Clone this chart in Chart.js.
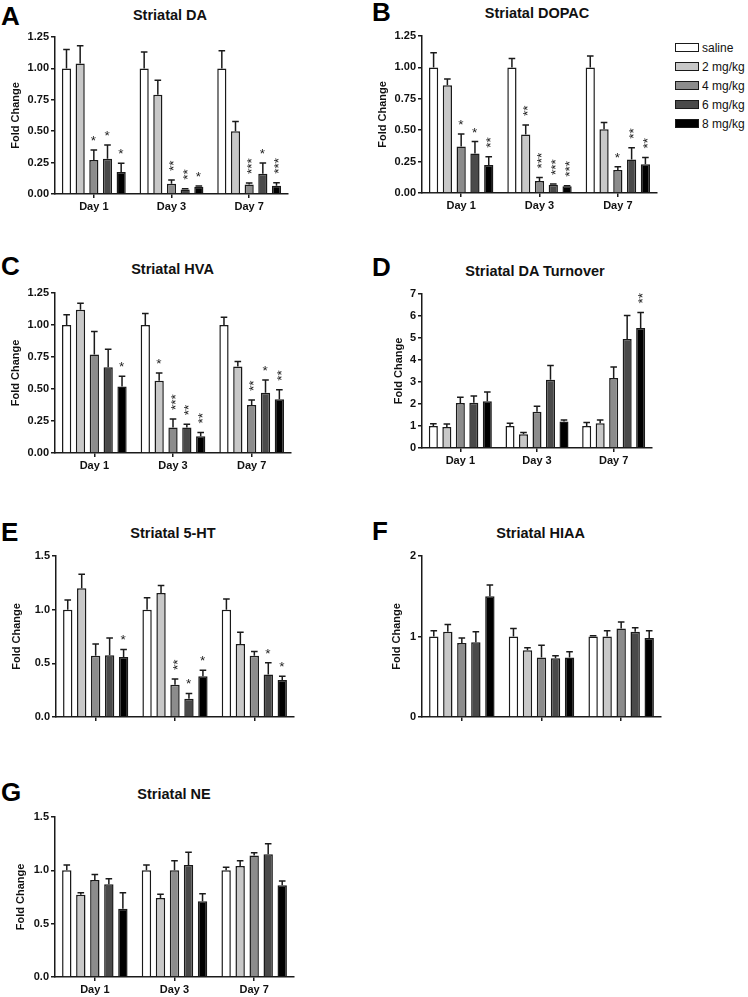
<!DOCTYPE html>
<html><head><meta charset="utf-8">
<script src="https://cdn.jsdelivr.net/npm/chart.js@4.4.1/dist/chart.umd.min.js"></script>
<style>
html,body{margin:0;padding:0;background:#fff;}
body{width:748px;height:997px;position:relative;overflow:hidden;font-family:"Liberation Sans",Arial,sans-serif;}
canvas{position:absolute;}
.lbl{position:absolute;font-weight:bold;font-size:26px;line-height:26px;color:#000;}
.ttl{position:absolute;font-weight:bold;font-size:14.5px;line-height:16px;transform:translate(-50%,-50%);white-space:nowrap;color:#111;}
.leg{position:absolute;left:675px;top:38px;font-size:12px;color:#111;}
.legrow{height:19px;display:flex;align-items:center;}
.legbox{width:23.5px;height:8.5px;border:1.5px solid #1a1a1a;box-sizing:border-box;margin-right:3.5px;}
</style>
</head><body>
<script>
// ---------- data ----------
const categories = ['Day 1', 'Day 3', 'Day 7'];
const seriesNames = ['saline', '2 mg/kg', '4 mg/kg', '6 mg/kg', '8 mg/kg'];

// A: Striatal DA  (rows = series, cols = days)
const daMean = [[1.00, 1.00, 1.00], [1.04, 0.79, 0.50], [0.27, 0.082, 0.075], [0.28, 0.035, 0.162], [0.175, 0.058, 0.066]];
const daErr  = [[0.15, 0.13, 0.14], [0.14, 0.115, 0.077], [0.08, 0.03, 0.013], [0.11, 0.007, 0.085], [0.07, 0.006, 0.024]];
const daStars = [['', '', ''], ['', '', ''], ['*', '**', '***'], ['*', '**', '*'], ['*', '*', '***']];

// B: Striatal DOPAC
const dopacMean = [[1.00, 1.00, 1.00], [0.857, 0.466, 0.508], [0.37, 0.095, 0.183], [0.315, 0.066, 0.267], [0.222, 0.053, 0.228]];
const dopacErr  = [[0.116, 0.071, 0.09], [0.05, 0.076, 0.053], [0.10, 0.029, 0.026], [0.095, 0.005, 0.093], [0.066, 0.005, 0.055]];
const dopacStars = [['', '', ''], ['', '**', ''], ['*', '***', '*'], ['*', '***', '**'], ['**', '***', '**']];

// C: Striatal HVA
const hvaMean = [[1.00, 1.00, 1.00], [1.12, 0.565, 0.675], [0.77, 0.20, 0.375], [0.67, 0.20, 0.47], [0.52, 0.13, 0.42]];
const hvaErr  = [[0.08, 0.09, 0.06], [0.05, 0.06, 0.04], [0.18, 0.065, 0.04], [0.14, 0.025, 0.10], [0.08, 0.03, 0.075]];
const hvaStars = [['', '', ''], ['', '*', ''], ['', '***', '**'], ['', '**', '*'], ['*', '**', '**']];

// D: Striatal DA Turnover
const turnMean = [[1.00, 1.00, 1.00], [0.95, 0.62, 1.13], [2.04, 1.65, 3.18], [2.06, 3.10, 4.95], [2.13, 1.20, 5.46]];
const turnErr  = [[0.10, 0.12, 0.16], [0.14, 0.08, 0.14], [0.27, 0.25, 0.50], [0.30, 0.65, 1.07], [0.42, 0.07, 0.70]];
const turnStars = [['', '', ''], ['', '', ''], ['', '', ''], ['', '', ''], ['', '', '**']];

// E: Striatal 5-HT
const htMean = [[1.00, 1.00, 1.00], [1.20, 1.155, 0.68], [0.57, 0.30, 0.57], [0.575, 0.17, 0.395], [0.56, 0.38, 0.345]];
const htErr  = [[0.09, 0.11, 0.10], [0.13, 0.07, 0.11], [0.11, 0.055, 0.04], [0.16, 0.05, 0.11], [0.07, 0.055, 0.035]];
const htStars = [['', '', ''], ['', '', ''], ['', '**', ''], ['', '*', '*'], ['*', '*', '*']];

// F: Striatal HIAA
const hiaaMean = [[1.00, 1.00, 1.00], [1.06, 0.83, 1.00], [0.92, 0.74, 1.10], [0.93, 0.73, 1.06], [1.50, 0.74, 0.98]];
const hiaaErr  = [[0.07, 0.10, 0.01], [0.09, 0.03, 0.07], [0.06, 0.15, 0.08], [0.13, 0.03, 0.05], [0.14, 0.07, 0.09]];
const hiaaStars = [['', '', ''], ['', '', ''], ['', '', ''], ['', '', ''], ['', '', '']];

// G: Striatal NE
const neMean = [[1.00, 1.00, 1.00], [0.77, 0.74, 1.04], [0.91, 1.00, 1.14], [0.87, 1.05, 1.15], [0.64, 0.71, 0.86]];
const neErr  = [[0.05, 0.05, 0.03], [0.02, 0.035, 0.05], [0.05, 0.09, 0.025], [0.05, 0.12, 0.10], [0.15, 0.07, 0.04]];
const neStars = [['', '', ''], ['', '', ''], ['', '', ''], ['', '', ''], ['', '', '']];

// y-axis ranges / ticks
const yMaxes = {A: 1.25, B: 1.25, C: 1.25, D: 7, E: 1.5, F: 2, G: 1.5};
const ySteps = {A: 0.25, B: 0.25, C: 0.25, D: 1, E: 0.5, F: 1, G: 0.5};
const yDecimals = {A: 2, B: 2, C: 2, D: 0, E: 1, F: 0, G: 1};

// ---------- style / layout ----------
const FONT = '"Liberation Sans", Arial, sans-serif';
const fills = ['#ffffff', '#c8c8c8', '#8c8c8c', '#4a4a4a', '#000000'];
const INK = '#1a1a1a';

const panels = [
  {id: 'A', title: 'Striatal DA', mean: daMean, err: daErr, stars: daStars, area: {l: 55, t: 37, r: 288, b: 194}, showX: true, yTitleX: 15.5, letter: [1, 3.3], tpos: [170, 14.7]},
  {id: 'B', title: 'Striatal DOPAC', mean: dopacMean, err: dopacErr, stars: dopacStars, area: {l: 422, t: 36, r: 657, b: 193}, showX: true, yTitleX: 383, letter: [372, -1.2], tpos: [537, 12.5]},
  {id: 'C', title: 'Striatal HVA', mean: hvaMean, err: hvaErr, stars: hvaStars, area: {l: 55, t: 293, r: 291, b: 453}, showX: true, yTitleX: 15.5, letter: [1, 253.3], tpos: [172.5, 269]},
  {id: 'D', title: 'Striatal DA Turnover', mean: turnMean, err: turnErr, stars: turnStars, area: {l: 422, t: 294, r: 652, b: 448}, showX: true, yTitleX: 399, letter: [372, 254.3], tpos: [535, 271]},
  {id: 'E', title: 'Striatal 5-HT', mean: htMean, err: htErr, stars: htStars, area: {l: 56, t: 556, r: 294, b: 717}, showX: false, yTitleX: 17, letter: [1, 519.3], tpos: [173, 532.5]},
  {id: 'F', title: 'Striatal HIAA', mean: hiaaMean, err: hiaaErr, stars: hiaaStars, area: {l: 422, t: 556, r: 661, b: 717}, showX: false, yTitleX: 397, letter: [372, 518.3], tpos: [540.7, 532.5]},
  {id: 'G', title: 'Striatal NE', mean: neMean, err: neErr, stars: neStars, area: {l: 55, t: 817, r: 294, b: 977}, showX: true, yTitleX: 21, letter: [1, 779.3], tpos: [174, 794]}
];

// ---------- error bars & significance stars ----------
const errStarPlugin = {
  id: 'errStar',
  afterDatasetsDraw(chart, args, opts) {
    const ctx = chart.ctx;
    const y = chart.scales.y;
    chart.data.datasets.forEach((ds, i) => {
      const meta = chart.getDatasetMeta(i);
      meta.data.forEach((bar, j) => {
        const v = ds.data[j], e = opts.err[i][j];
        const yv = y.getPixelForValue(v), ye = y.getPixelForValue(v + e);
        ctx.save();
        ctx.strokeStyle = INK; ctx.lineWidth = 1.5;
        ctx.beginPath();
        ctx.moveTo(bar.x, yv); ctx.lineTo(bar.x, ye);
        ctx.moveTo(bar.x - 3.3, ye); ctx.lineTo(bar.x + 3.3, ye);
        ctx.stroke();
        const s = opts.stars[i][j];
        if (s) {
          ctx.font = '13.5px ' + FONT;
          ctx.fillStyle = '#222';
          ctx.textAlign = 'left'; ctx.textBaseline = 'alphabetic';
          const m = ctx.measureText(s);
          const gw = m.actualBoundingBoxLeft + m.actualBoundingBoxRight;
          const gap = 9;
          if (s.length === 1) {
            ctx.fillText(s, bar.x - gw / 2 + m.actualBoundingBoxLeft, ye - gap - m.actualBoundingBoxDescent);
          } else {
            ctx.translate(bar.x, ye - gap - gw / 2);
            ctx.rotate(-Math.PI / 2);
            ctx.fillText(s, -gw / 2 + m.actualBoundingBoxLeft, (m.actualBoundingBoxAscent - m.actualBoundingBoxDescent) / 2);
          }
        }
        ctx.restore();
      });
    });
  }
};

const YW = 55, PT = 15, PR = 15, PB = 2, XH = 20;

function addDiv(cls, text, left, top) {
  const d = document.createElement('div');
  d.className = cls; d.textContent = text;
  d.style.left = left + 'px'; d.style.top = top + 'px';
  document.body.appendChild(d);
}

panels.forEach(p => {
  addDiv('lbl', p.id, p.letter[0], p.letter[1]);
  addDiv('ttl', p.title, p.tpos[0], p.tpos[1]);
  const L = p.area.l - YW, T = p.area.t - PT;
  const W = p.area.r - p.area.l + YW + PR, H = p.area.b - p.area.t + PT + PB + XH;
  const c = document.createElement('canvas');
  c.width = W; c.height = H;
  c.style.left = L + 'px'; c.style.top = T + 'px';
  c.style.width = W + 'px'; c.style.height = H + 'px';
  document.body.appendChild(c);
  const gridOpts = {display: true, drawOnChartArea: false, drawTicks: true, tickLength: 4, offset: false, color: INK, lineWidth: 1.5};
  const borderOpts = {display: true, color: INK, width: 1.5};
  const tickFont = {family: FONT, size: 11, weight: 'bold'};
  new Chart(c, {
    type: 'bar',
    data: {
      labels: categories,
      datasets: seriesNames.map((n, i) => ({
        label: n, data: p.mean[i], backgroundColor: fills[i], borderColor: INK,
        borderWidth: 1.5, categoryPercentage: 0.88, barPercentage: 0.67
      }))
    },
    options: {
      responsive: false, animation: false, devicePixelRatio: 1,
      layout: {padding: {left: 0, top: PT, right: PR, bottom: PB}},
      plugins: {legend: {display: false}, tooltip: {enabled: false}, errStar: {err: p.err, stars: p.stars}},
      scales: {
        x: {
          grid: gridOpts, border: borderOpts,
          ticks: {display: p.showX, color: '#111', font: tickFont, padding: 2, maxRotation: 0, autoSkip: false},
          afterFit: s => { s.height = XH; }
        },
        y: {
          min: 0, max: yMaxes[p.id],
          grid: gridOpts, border: borderOpts,
          ticks: {stepSize: ySteps[p.id], autoSkip: false, color: '#111', font: tickFont, padding: 2,
                  callback: v => Number(v).toFixed(yDecimals[p.id])},
          title: {display: true, text: 'Fold Change', color: '#111', font: {family: FONT, size: 11, weight: 'bold'},
                  padding: {top: p.yTitleX - L - 6.6, bottom: 0}},
          afterFit: s => { s.width = YW; }
        }
      }
    },
    plugins: [errStarPlugin]
  });
});

// legend (HTML) built from series
const leg = document.createElement('div');
leg.className = 'leg';
seriesNames.forEach((n, i) => {
  const row = document.createElement('div'); row.className = 'legrow';
  const b = document.createElement('span'); b.className = 'legbox'; b.style.background = fills[i];
  const t = document.createElement('span'); t.textContent = n;
  row.appendChild(b); row.appendChild(t); leg.appendChild(row);
});
document.body.appendChild(leg);
</script>
</body></html>
